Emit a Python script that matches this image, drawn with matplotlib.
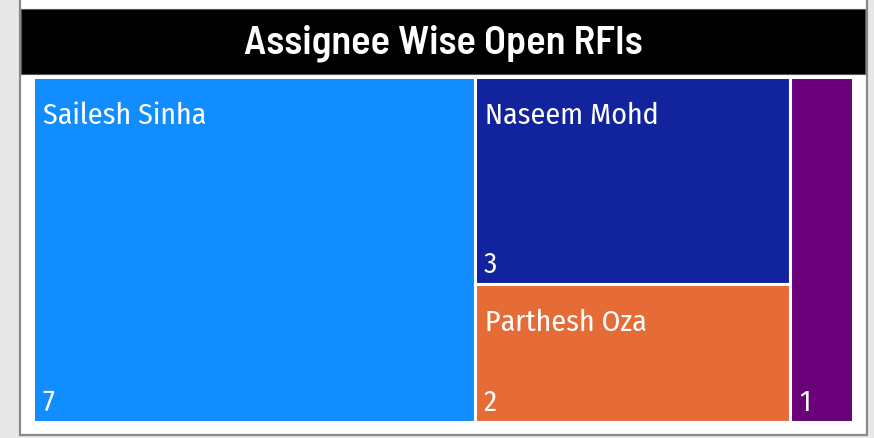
import matplotlib
matplotlib.use("Agg")
import matplotlib.pyplot as plt
from matplotlib.patches import Rectangle

# ---- data ----
title = "Assignee Wise Open RFIs"
assignees = ["Sailesh Sinha", "Naseem Mohd", "Parthesh Oza", ""]
open_rfis = [7, 3, 2, 1]
colors = ["#118DFF", "#12239E", "#E66C37", "#6B007B"]
# treemap column grouping (indices into the lists above)
columns = [[0], [1, 2], [3]]

W, H = 874, 439
fig = plt.figure(figsize=(W / 100, H / 100), dpi=100)
fig.patch.set_facecolor("#E8E8E8")
ax = fig.add_axes([0, 0, 1, 1])
ax.set_xlim(0, W)
ax.set_ylim(H, 0)
ax.axis("off")

# card
ax.add_patch(Rectangle((19.5, -2), 847, 438, facecolor="white", edgecolor="#8A8A8A", lw=1.6, zorder=0))
# title bar
ax.add_patch(Rectangle((21, 10), 844, 65, facecolor="black", edgecolor="#555555", lw=0.8, zorder=1))
ax.text(443, 43, title, color="white", fontsize=29, family=["Barlow Semi Condensed", "DejaVu Sans"],
        weight="semibold", ha="center", va="center", zorder=3)

# treemap area
x0, y0, x1, y1 = 33, 78, 853, 423
total = sum(open_rfis)
cx = x0
label_font = ["Fira Sans Condensed", "Open Sans", "DejaVu Sans"]
for col in columns:
    col_sum = sum(open_rfis[i] for i in col)
    cw = (x1 - x0) * col_sum / total
    cy = y0
    for i in col:
        ch = (y1 - y0) * open_rfis[i] / col_sum
        ax.add_patch(Rectangle((cx, cy), cw, ch, facecolor=colors[i], edgecolor="white",
                               lw=2.2, zorder=2))
        if assignees[i]:
            ax.text(cx + 10, cy + 46, assignees[i], color="white", fontsize=21.5, weight="normal",
                    family=label_font, ha="left", va="baseline", zorder=3)
        ax.text(cx + 9, cy + ch - 12, str(open_rfis[i]), color="white", fontsize=21, weight="normal",
                family=label_font, ha="left", va="baseline", zorder=3)
        cy += ch
    cx += cw

fig.savefig("out.png", dpi=100, facecolor=fig.get_facecolor())
